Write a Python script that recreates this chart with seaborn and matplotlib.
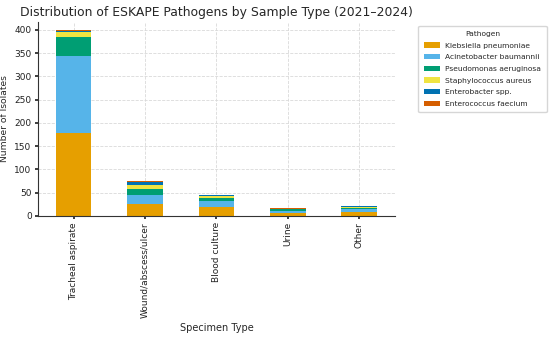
import matplotlib
import matplotlib.pyplot as plt
import pandas as pd
import seaborn as sns

matplotlib.use("agg")

specimens = ["Tracheal aspirate", "Wound/abscess/ulcer", "Blood culture", "Urine", "Other"]
pathogens = [
    "Klebsiella pneumoniae",
    "Acinetobacter baumannii",
    "Pseudomonas aeruginosa",
    "Staphylococcus aureus",
    "Enterobacter spp.",
    "Enterococcus faecium",
]
klebsiella = [178, 25, 20, 6, 8]
acinetobacter = [166, 20, 12, 5, 6]
pseudomonas = [41, 12, 6, 3, 4]
staphylococcus = [10, 10, 4, 1, 2]
enterobacter = [3, 6, 3, 1, 1]
enterococcus = [2, 3, 1, 1, 1]

colors = ["#E69F00", "#56B4E9", "#009E73", "#F0E442", "#0072B2", "#D55E00"]

counts = [klebsiella, acinetobacter, pseudomonas, staphylococcus, enterobacter, enterococcus]
rows = []
for name, vals in zip(pathogens, counts):
    for spec, v in zip(specimens, vals):
        rows.append({"Specimen Type": spec, "Pathogen": name, "Isolates": v})
df = pd.DataFrame(rows)
df["Specimen Type"] = pd.Categorical(df["Specimen Type"], categories=specimens, ordered=True)

sns.set_theme(
    style="ticks",
    rc={
        "axes.grid": True,
        "grid.linestyle": "--",
        "grid.color": "#d9d9d9",
        "grid.linewidth": 0.6,
        "axes.edgecolor": "#333333",
        "axes.linewidth": 0.8,
    },
)
plt.rcParams["font.family"] = ["DejaVu Sans"]

fig, ax = plt.subplots(figsize=(5.5, 3.39), dpi=100)
# seaborn stacks the first hue level on top, so feed the order reversed
sns.histplot(
    data=df,
    x="Specimen Type",
    hue="Pathogen",
    hue_order=pathogens[::-1],
    weights="Isolates",
    multiple="stack",
    palette=colors[::-1],
    shrink=0.5,
    alpha=1,
    linewidth=0,
    ax=ax,
)
ax.set_xlim(-0.5, 4.5)
ax.set_ylim(0, 417)
ax.set_ylabel("Number of Isolates", fontsize=6.6)
ax.set_xlabel("Specimen Type", fontsize=7)
ax.set_title("Distribution of ESKAPE Pathogens by Sample Type (2021\u20132024)", fontsize=8.9, pad=4)
ax.tick_params(axis="x", labelrotation=90, labelsize=6.5, length=2.5, pad=2, labelcolor="#222222")
ax.tick_params(axis="y", labelsize=6.5, length=2.5, pad=2, labelcolor="#222222")
sns.despine(ax=ax)

old = ax.get_legend()
handles = old.legend_handles[::-1]
labels = [t.get_text() for t in old.get_texts()][::-1]
old.remove()
fig.legend(
    handles, labels, loc="upper left", bbox_to_anchor=(0.754, 0.935),
    title="Pathogen", fontsize=5.4, title_fontsize=5.4, frameon=True,
    borderpad=0.7, labelspacing=0.72, handlelength=2.2, handletextpad=0.7,
)

fig.subplots_adjust(left=0.069, right=0.718, top=0.935, bottom=0.363)
fig.savefig("out.png", dpi=100)
